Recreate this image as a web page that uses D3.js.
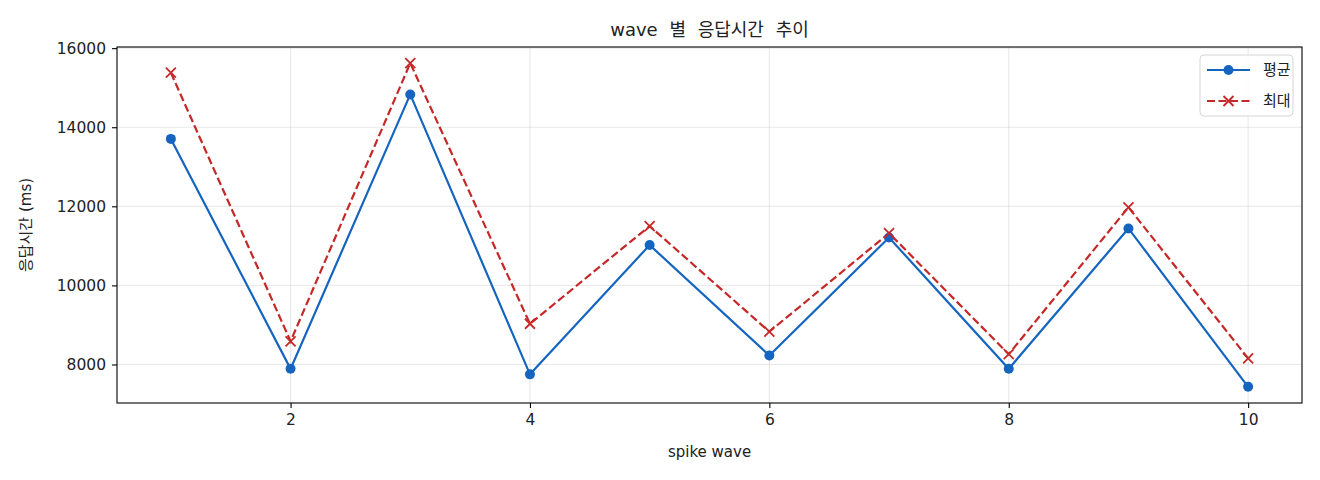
<!DOCTYPE html>
<html lang="ko">
<head>
<meta charset="UTF-8">
<title>wave 별 응답시간 추이</title>
<script src="https://d3js.org/d3.v7.min.js"></script>
<style>
  body { margin: 0; background: #fff; }
  text { font-family: "DejaVu Sans", "Noto Sans CJK KR", sans-serif; fill: #222; }
</style>
</head>
<body>
<script>
// 데이터
var waves = [1, 2, 3, 4, 5, 6, 7, 8, 9, 10];
var avgMs = [13705, 7890, 14830, 7750, 11020, 8226, 11210, 7890, 11440, 7435];
var maxMs = [15380, 8585, 15620, 9030, 11500, 8830, 11320, 8260, 11975, 8155];
var xTicks = [2, 4, 6, 8, 10];
var yTicks = [8000, 10000, 12000, 14000, 16000];
var seriesNames = ['평균', '최대'];

var width = 1320, height = 480;
var margin = {top: 47, right: 18, bottom: 77, left: 117};
var blue = '#1565c0', red = '#c62828';

var svg = d3.select('body').append('svg').attr('width', width).attr('height', height);

var x = d3.scaleLinear().domain([0.55, 10.45]).range([margin.left, width - margin.right]);
var ymin = Math.min(d3.min(avgMs), d3.min(maxMs)), ymax = Math.max(d3.max(avgMs), d3.max(maxMs));
var pad = (ymax - ymin) * 0.05;
var y = d3.scaleLinear().domain([ymin - pad, ymax + pad]).range([height - margin.bottom, margin.top]);

// 그리드
var grid = svg.append('g');
grid.selectAll('.gx').data(xTicks).enter().append('line')
    .attr('x1', d => x(d)).attr('x2', d => x(d))
    .attr('y1', margin.top).attr('y2', height - margin.bottom)
    .attr('stroke', '#b0b0b0').attr('stroke-opacity', 0.3).attr('stroke-width', 1);
grid.selectAll('.gy').data(yTicks).enter().append('line')
    .attr('x1', margin.left).attr('x2', width - margin.right)
    .attr('y1', d => y(d)).attr('y2', d => y(d))
    .attr('stroke', '#b0b0b0').attr('stroke-opacity', 0.3).attr('stroke-width', 1);

// 축
var xAxis = svg.append('g').attr('transform', 'translate(0,' + (height - margin.bottom) + ')')
    .call(d3.axisBottom(x).tickValues(xTicks).tickSize(5).tickPadding(6).tickSizeOuter(0));
var yAxis = svg.append('g').attr('transform', 'translate(' + margin.left + ',0)')
    .call(d3.axisLeft(y).tickValues(yTicks).tickSize(5).tickPadding(6).tickFormat(d3.format('d')).tickSizeOuter(0));
[xAxis, yAxis].forEach(function (a) {
  a.select('.domain').remove();
  a.selectAll('line').attr('stroke', '#000').attr('stroke-width', 1.1);
  a.selectAll('text').attr('font-size', '15.5px').attr('fill', '#222')
      .attr('font-family', '"DejaVu Sans", sans-serif');
});

svg.append('rect')
    .attr('x', margin.left).attr('y', margin.top)
    .attr('width', width - margin.left - margin.right)
    .attr('height', height - margin.top - margin.bottom)
    .attr('fill', 'none').attr('stroke', '#000').attr('stroke-width', 1.1);

// 선
var line = d3.line().x((d, i) => x(waves[i])).y(d => y(d));
svg.append('path').datum(avgMs).attr('d', line)
    .attr('fill', 'none').attr('stroke', blue).attr('stroke-width', 2.2);
svg.append('path').datum(maxMs).attr('d', line)
    .attr('fill', 'none').attr('stroke', red).attr('stroke-width', 2.2)
    .attr('stroke-dasharray', '8,3.5');

// 마커
svg.selectAll('.dot').data(avgMs).enter().append('circle')
    .attr('cx', (d, i) => x(waves[i])).attr('cy', d => y(d)).attr('r', 5)
    .attr('fill', blue);
svg.selectAll('.cross').data(maxMs).enter().append('path')
    .attr('transform', (d, i) => 'translate(' + x(waves[i]) + ',' + y(d) + ')')
    .attr('d', 'M-5,-5L5,5M-5,5L5,-5')
    .attr('stroke', red).attr('stroke-width', 1.8).attr('fill', 'none');

// 제목과 축 이름
svg.append('text').attr('x', (margin.left + width - margin.right) / 2).attr('y', 36)
    .attr('text-anchor', 'middle').attr('font-size', '18px').attr('word-spacing', '6px')
    .text('wave 별 응답시간 추이');
svg.append('text').attr('x', (margin.left + width - margin.right) / 2).attr('y', 457)
    .attr('text-anchor', 'middle').attr('font-size', '15px').text('spike wave');
svg.append('text').attr('transform', 'translate(31,' + ((margin.top + height - margin.bottom) / 2) + ') rotate(-90)')
    .attr('text-anchor', 'middle').attr('font-size', '15px').text('응답시간 (ms)');

// 범례
var lg = svg.append('g').attr('transform', 'translate(1200,55)');
lg.append('rect').attr('width', 93).attr('height', 61).attr('rx', 4)
    .attr('fill', '#fff').attr('fill-opacity', 0.8).attr('stroke', '#d6d6d6');
seriesNames.forEach(function (name, i) {
  var cy = 15 + i * 31;
  var g = lg.append('g').attr('transform', 'translate(0,' + cy + ')');
  var ln = g.append('line').attr('x1', 7).attr('x2', 50).attr('y1', 0).attr('y2', 0)
      .attr('stroke', i === 0 ? blue : red).attr('stroke-width', 2.2);
  if (i === 0) {
    g.append('circle').attr('cx', 28.5).attr('cy', 0).attr('r', 5).attr('fill', blue);
  } else {
    ln.attr('stroke-dasharray', '8,3.5');
    g.append('path').attr('d', 'M23.5,-5L33.5,5M23.5,5L33.5,-5')
        .attr('stroke', red).attr('stroke-width', 1.8);
  }
  g.append('text').attr('x', 63).attr('y', 5).attr('font-size', '15px').text(name);
});
</script>
</body>
</html>
